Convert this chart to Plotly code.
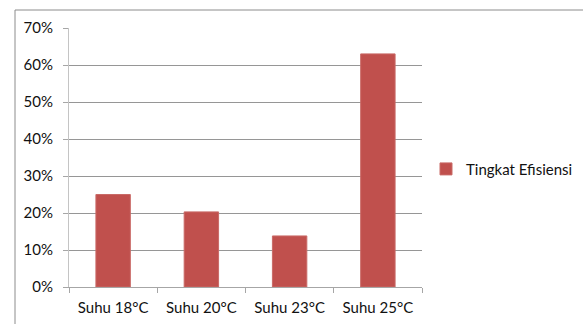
import plotly.graph_objects as go

categories = ["Suhu 18°C", "Suhu 20°C", "Suhu 23°C", "Suhu 25°C"]
efisiensi = [0.25, 0.203, 0.138, 0.63]
series_name = "Tingkat Efisiensi"
y_ticks = [0, 0.1, 0.2, 0.3, 0.4, 0.5, 0.6, 0.7]
y_tick_labels = ["0%", "10%", "20%", "30%", "40%", "50%", "60%", "70%"]

W, H = 583, 324
L, R, T, B = 69, 161, 28, 37
pw, ph = W - L - R, H - T - B

def px_x(p):
    return (p - L) / pw

def px_y(p):
    return (H - B - p) / ph

font = dict(family="Lato, Open Sans, sans-serif", size=15, color="#111111")

fig = go.Figure(
    go.Bar(
        x=categories,
        y=efisiensi,
        name=series_name,
        marker=dict(color="#C0504D", line=dict(color="#C96a67", width=1)),
        width=0.39,
        showlegend=True,
    )
)

fig.update_layout(
    width=W,
    height=H,
    margin=dict(l=L, r=R, t=T, b=B, autoexpand=False),
    paper_bgcolor="white",
    plot_bgcolor="white",
    font=font,
    showlegend=True,
    legend=dict(x=px_x(578), y=0.455, xanchor="right", yanchor="middle",
                font=font, itemwidth=30, tracegroupgap=0,
                bgcolor="rgba(0,0,0,0)"),
    xaxis=dict(
        type="category",
        showgrid=False,
        showline=True,
        linecolor="#a6a6a6",
        linewidth=1,
        ticks="outside",
        tickson="boundaries",
        ticklen=5,
        tickcolor="#a6a6a6",
        ticklabelstandoff=7,
    ),
    yaxis=dict(
        range=[0, 0.7],
        tickvals=y_ticks,
        ticktext=y_tick_labels,
        showgrid=True,
        gridcolor="#969696",
        gridwidth=1,
        showline=True,
        linecolor="#c4c4c4",
        linewidth=1,
        ticks="outside",
        ticklen=5,
        tickcolor="#a6a6a6",
        zeroline=False,
        ticklabelstandoff=7,
    ),
    shapes=[
        # outer chart frame (left and top edges)
        dict(type="line", xref="paper", yref="paper",
             x0=px_x(15), x1=px_x(15), y0=px_y(10), y1=px_y(330),
             line=dict(color="#8c8c8c", width=1)),
        dict(type="line", xref="paper", yref="paper",
             x0=px_x(15), x1=px_x(590), y0=px_y(10), y1=px_y(10),
             line=dict(color="#8c8c8c", width=1)),
    ],
)

fig.write_html("out.html")
